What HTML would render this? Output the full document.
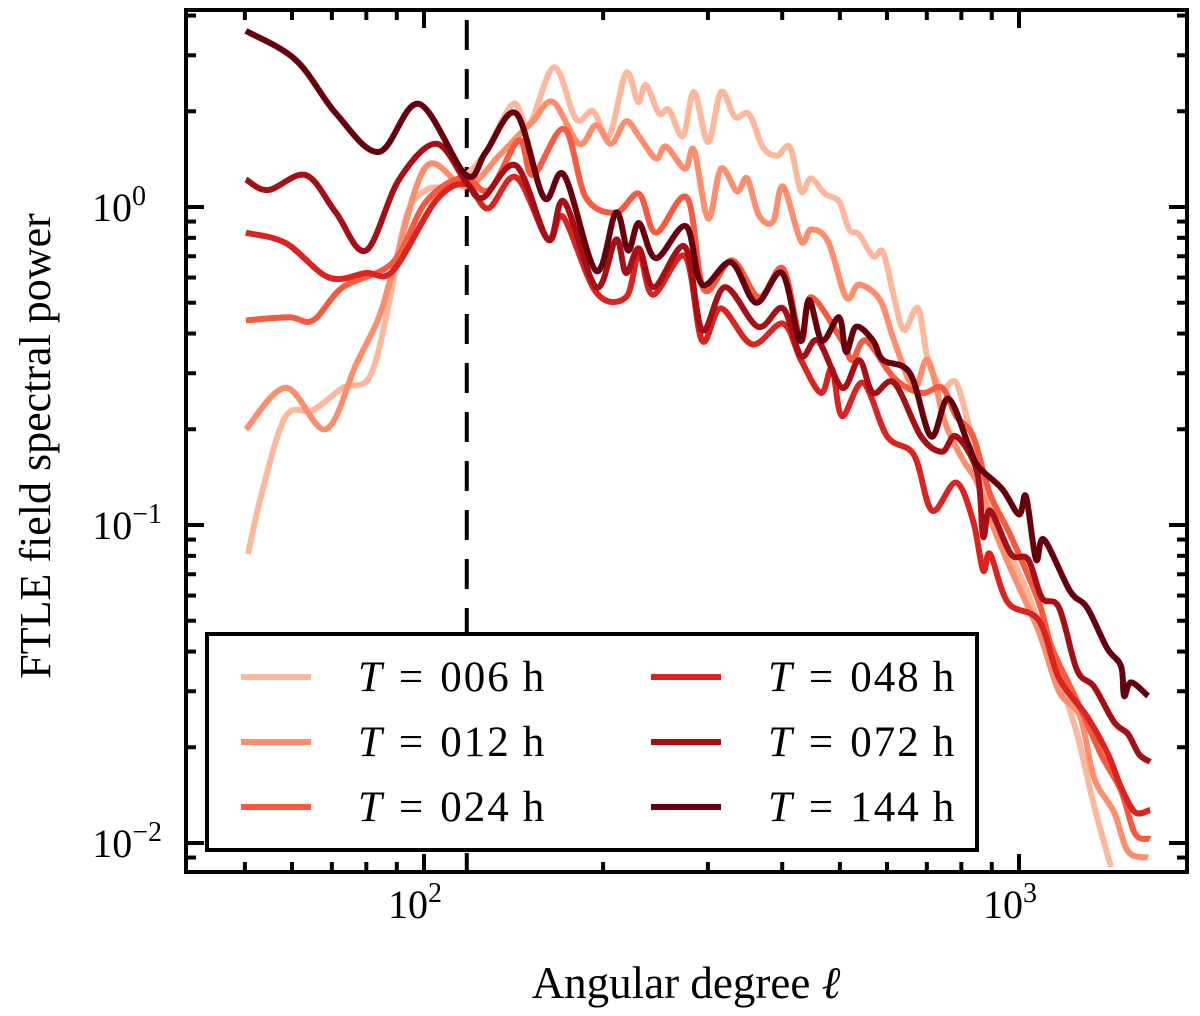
<!DOCTYPE html>
<html><head><meta charset="utf-8"><style>
html,body{margin:0;padding:0;background:#fff;}
svg{display:block;font-family:"Liberation Serif","DejaVu Serif",serif;}
</style></head><body>
<svg id="chart" width="1200" height="1016" viewBox="0 0 1200 1016" xmlns="http://www.w3.org/2000/svg">
<defs><clipPath id="plotclip"><rect x="186" y="10" width="1001" height="862"/></clipPath></defs>
<rect x="0" y="0" width="1200" height="1016" fill="#fff"/>
<g id="series" clip-path="url(#plotclip)"></g>
<g id="ticks"></g>
<rect x="186" y="10" width="1001" height="862" fill="none" stroke="#000" stroke-width="4"/>
<g id="labels"></g>
<text x="50" y="446" font-size="44" text-anchor="middle" transform="rotate(-90 50 446)">FTLE field spectral power</text>
<text x="686" y="998" font-size="45" text-anchor="middle">Angular degree <tspan font-style="italic">ℓ</tspan></text>
<g id="legend"></g>
</svg>
<script>
const seriesNames = ["006","012","024","048","072","144"];
const seriesColors = ["#fcb79c","#fc8e6e","#f65a40","#d92522","#a50f15","#67000d"];
const l006 = [50.6,53.6,58.6,65.1,73.1,80.8,86.4,93.3,100.8,110.2,117.7,127.1,141.1,150.1,165.4,180.1,192.3,204.6,218.5,229,236.1,248.3,258.1,272.4,284.3,300.2,315.6,333.2,351.8,371.3,392,412.2,430.1,447.1,472,498.4,518.1,538.6,568.6,591,616.6,640.9,676.6,703.3,742.4,783.9,827.5,860.3,894.3,958.3,1023.5,1093.2,1167.6,1251.8,1337.1,1427.9];
const p006 = [0.081,0.13,0.22,0.23,0.27,0.29,0.45,0.93,1.13,1.16,1.26,1.49,2.11,1.81,2.75,1.89,2.0,1.67,2.64,2.14,2.42,1.97,2.02,1.67,2.30,1.6,2.3,1.92,1.96,1.54,1.45,1.54,1.12,1.23,1.10,1.04,0.85,0.82,0.70,0.72,0.52,0.41,0.48,0.33,0.27,0.28,0.20,0.16,0.116,0.084,0.064,0.046,0.033,0.022,0.0131,0.0084];
const l012 = [50.2,58.6,68.4,76.9,84,88.7,100.8,117.7,133.7,142.8,152.5,164.8,182.2,194.6,206.2,218.5,229.8,245.4,255.1,274.5,284.3,300.2,315.6,335.8,349.1,365.6,386,401.2,430.1,447.1,477.5,512.1,538.6,584.2,616.6,666.1,703.3,751.1,805.4,850.3,918.4,980.9,1080.5,1167.6,1266.5,1337.1,1444.7,1525.1,1647.8];
const p012 = [0.20,0.27,0.20,0.32,0.45,0.63,1.34,1.16,1.45,1.65,1.86,2.14,1.58,1.81,1.58,1.86,1.67,1.42,1.55,1.32,1.51,0.92,1.32,1.12,1.23,0.94,0.90,1.16,0.78,0.85,0.78,0.52,0.57,0.51,0.38,0.27,0.33,0.21,0.16,0.136,0.092,0.069,0.046,0.030,0.025,0.016,0.0125,0.0094,0.009];
const l024 = [50.2,59.3,65.1,73.1,88.7,100.8,116.3,128.6,144.4,152.5,172,187.2,210.2,229.8,245.4,276.7,295.6,329.4,365.6,401.2,430.1,447.1,504.2,524.2,553.4,616.6,684.4,742.4,783.9,837.3,894.3,969.6,1080.5,1136.4,1251.8,1373.7,1484.2,1567,1660.7];
const p024 = [0.44,0.45,0.44,0.56,0.67,1.04,1.24,1.13,1.62,1.26,1.76,1.07,0.96,1.1,0.83,1.07,0.55,0.68,0.52,0.64,0.38,0.52,0.38,0.33,0.38,0.29,0.26,0.27,0.22,0.19,0.125,0.092,0.057,0.041,0.028,0.019,0.0146,0.0107,0.0103];
const l048 = [50.2,58.6,69.2,79.9,88.7,104.8,117.7,128.1,142.8,161.6,171.3,194.6,218.5,229.8,242.6,274.5,293.3,315.6,355.9,401.2,430.1,464.8,485,504.2,547,600.2,666.1,714.2,783.9,837.3,870.4,894.3,958.3,1080.5,1167.6,1301.3,1411.5,1484.2,1567,1660.7];
const p048 = [0.83,0.77,0.6,0.62,0.63,1.05,1.18,0.99,1.24,0.79,0.93,0.54,0.52,0.71,0.53,0.70,0.38,0.48,0.37,0.43,0.33,0.26,0.31,0.22,0.28,0.19,0.166,0.111,0.136,0.103,0.072,0.081,0.057,0.050,0.033,0.025,0.019,0.015,0.0125,0.0127];
const l072 = [50.2,54.7,63.3,71.1,79.9,90.8,104.8,117.7,125.6,142.8,161.6,172,194.6,210.2,218.5,229.8,243.5,274.5,293.3,320.6,364.2,401.2,430.1,459.4,504.2,538.6,568.6,616.6,684.4,742.4,783.9,850.3,870.4,894.3,969.6,1035.4,1093.2,1167.6,1251.8,1337.1,1444.7,1525.1,1591.5,1660.7];
const p072 = [1.22,1.13,1.26,0.96,0.73,1.22,1.58,1.2,1.07,1.35,0.79,1.04,0.56,0.79,0.62,0.74,0.56,0.75,0.41,0.56,0.42,0.48,0.34,0.38,0.27,0.33,0.26,0.28,0.19,0.17,0.19,0.147,0.092,0.111,0.081,0.078,0.059,0.055,0.035,0.031,0.024,0.022,0.019,0.018];
const l144 = [50.2,60.9,71.1,84,98.1,117.7,127.1,142.8,159.1,172,194.6,210.2,220.3,229.8,245.4,275.6,293.3,328.1,361.4,399.6,428.5,443.7,466.6,498.4,512.1,532.4,568.6,591,655.9,711.5,760,821.1,853.6,936.3,1000,1027.5,1068,1101.7,1218.3,1301.3,1406,1484.2,1501.7,1542.8,1647.8];
const p144 = [3.58,2.9,1.97,1.49,2.11,1.26,1.49,1.97,1.07,1.26,0.63,0.96,0.73,0.89,0.69,0.87,0.57,0.67,0.50,0.62,0.38,0.51,0.38,0.45,0.35,0.42,0.38,0.33,0.30,0.19,0.25,0.18,0.153,0.13,0.108,0.123,0.078,0.09,0.062,0.055,0.041,0.036,0.029,0.032,0.029];
const cutoffDegree = [118];
const xMajorTicks = [100, 1000];
const xTickLabels = ["2","3"];
const yMajorTicks = [1, 0.1, 0.01];
const yTickLabels = ["0","−1","−2"];

const NS = "http://www.w3.org/2000/svg";
function xs(l){ return 424 + 595*(Math.log10(l)-2); }
function ys(v){ return 207 - 318*Math.log10(v); }
function mk(tag, attrs, parent){ const e=document.createElementNS(NS,tag); for(const k in attrs) e.setAttribute(k, attrs[k]); parent.appendChild(e); return e; }
function smoothPath(P){
  let d="M"+P[0][0].toFixed(1)+","+P[0][1].toFixed(1);
  for(let i=0;i<P.length-1;i++){
    const p0=P[Math.max(0,i-1)], p1=P[i], p2=P[i+1], p3=P[Math.min(P.length-1,i+2)];
    const t=1/6;
    const c1=[p1[0]+(p2[0]-p0[0])*t, p1[1]+(p2[1]-p0[1])*t];
    const c2=[p2[0]-(p3[0]-p1[0])*t, p2[1]-(p3[1]-p1[1])*t];
    d+=" C"+c1[0].toFixed(1)+","+c1[1].toFixed(1)+" "+c2[0].toFixed(1)+","+c2[1].toFixed(1)+" "+p2[0].toFixed(1)+","+p2[1].toFixed(1);
  }
  return d;
}

const allL = [l006,l012,l024,l048,l072,l144];
const allP = [p006,p012,p024,p048,p072,p144];
const gS = document.getElementById("series");
const dl = mk("line",{x1:xs(cutoffDegree[0]),x2:xs(cutoffDegree[0]),y1:20,y2:872,stroke:"#000","stroke-width":4,"stroke-dasharray":"30 19"},gS);


for(let i=0;i<6;i++){
  const P = allL[i].map((l,j)=>[xs(l), ys(allP[i][j])]);
  const pl = mk("path",{d:smoothPath(P),fill:"none",stroke:seriesColors[i],"stroke-width":6,"stroke-linejoin":"round","stroke-linecap":"butt"},gS);
  
  
}
const gT = document.getElementById("ticks");
function tk(x1,y1,x2,y2,w){ const t=mk("line",{x1,y1,x2,y2,stroke:"#000","stroke-width":w},gT);   }
for(let d=10; d<=1000; d*=10){
  for(let m=1;m<10;m++){
    const l=d*m; const x=xs(l); if(x<188||x>1185) continue;
    const major = m===1; const len = major?18:10;
    tk(x,872,x,872-len,4); tk(x,10,x,10+len,4);
  }
}
for(let d=0.001; d<=1; d*=10){
  for(let m=1;m<10;m++){
    const v=d*m; const y=ys(v); if(y<12||y>870) continue;
    const major = m===1; const len = major?18:10;
    tk(186,y,186+len,y,4); tk(1187,y,1187-len,y,4);
  }
}
const gL = document.getElementById("labels");
xMajorTicks.forEach((l,i)=>{
  const t=mk("text",{x:xs(l)-9,y:918,"font-size":40,"text-anchor":"middle"},gL);
  t.textContent="10";
  const s=mk("tspan",{"font-size":28,dy:-16},t); s.textContent=xTickLabels[i];
  
  
});
yMajorTicks.forEach((v,i)=>{
  const t=mk("text",{x:i===0?146:162,y:ys(v)+14,"font-size":40,"text-anchor":"end"},gL);
  t.textContent="10";
  const s=mk("tspan",{"font-size":28,dy:-16},t); s.textContent=yTickLabels[i];
  
  
});
const gLg = document.getElementById("legend");
const box = mk("rect",{x:207,y:634,width:770,height:216,fill:"#fff",stroke:"#000","stroke-width":4},gLg);


for(let i=0;i<6;i++){
  const col = Math.floor(i/3), row=i%3;
  const lx = col===0?241:651, ty=677+row*65;
  const ln=mk("line",{x1:lx,x2:lx+70,y1:ty,y2:ty,stroke:seriesColors[i],"stroke-width":6},gLg);
  
  
  const t=mk("text",{x:lx+117,y:ty+14,"font-size":43},gLg);
  const it=mk("tspan",{"font-style":"italic"},t); it.textContent="T";
  const eq=mk("tspan",{dx:17},t); eq.textContent="=";
  const num=mk("tspan",{dx:17,"letter-spacing":2},t); num.textContent=seriesNames[i];
  const hh=mk("tspan",{dx:12},t); hh.textContent="h";
  
  
}
</script>
</body></html>
